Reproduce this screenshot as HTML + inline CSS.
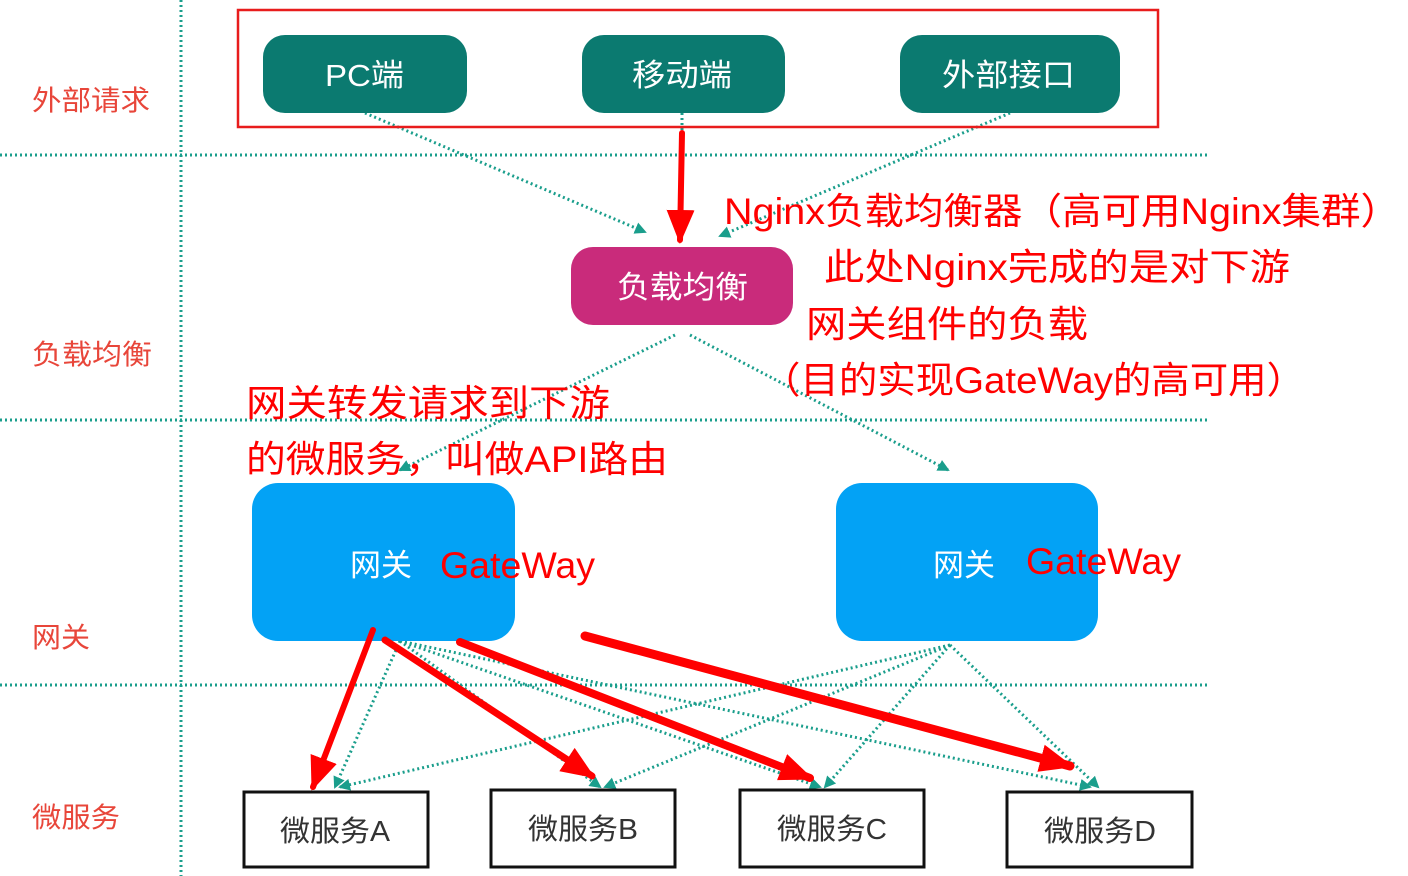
<!DOCTYPE html>
<html><head><meta charset="utf-8"><style>
html,body{margin:0;padding:0;background:#fff;width:1408px;height:876px;overflow:hidden}
text{font-family:"Liberation Sans","Noto Sans CJK SC",sans-serif}
</style></head><body>
<svg width="1408" height="876" viewBox="0 0 1408 876" xmlns="http://www.w3.org/2000/svg">
<defs>
<marker id="ta" markerWidth="12" markerHeight="12" refX="10" refY="6" orient="auto" markerUnits="userSpaceOnUse"><path d="M0,0 L12,6 L0,12 z" fill="#1a9e8c"/></marker>
<marker id="ra" markerWidth="34" markerHeight="28" refX="30" refY="14" orient="auto" markerUnits="userSpaceOnUse"><path d="M0,0 L34,14 L0,28 z" fill="#f00"/></marker>
</defs>
<g stroke="#1a9e8c" stroke-width="3" stroke-dasharray="2 3" fill="none">
<line x1="181" y1="0" x2="181" y2="876"/>
<line x1="0" y1="155" x2="1210" y2="155"/>
<line x1="0" y1="420" x2="1210" y2="420"/>
<line x1="0" y1="685" x2="1210" y2="685"/>
</g>
<g stroke="#1a9e8c" stroke-width="3" stroke-dasharray="2 3" fill="none" marker-end="url(#ta)">
<line x1="365" y1="113" x2="645" y2="232"/>
<line x1="682" y1="113" x2="682" y2="232"/>
<line x1="1010" y1="113" x2="720" y2="236"/>
<line x1="675" y1="335" x2="400" y2="470"/>
<line x1="690" y1="335" x2="948" y2="470"/>
<line x1="400" y1="641" x2="335" y2="787"/>
<line x1="400" y1="641" x2="600" y2="787"/>
<line x1="400" y1="641" x2="820" y2="787"/>
<line x1="400" y1="641" x2="1090" y2="787"/>
<line x1="950" y1="645" x2="340" y2="787"/>
<line x1="950" y1="645" x2="605" y2="787"/>
<line x1="950" y1="645" x2="825" y2="787"/>
<line x1="950" y1="645" x2="1098" y2="787"/>
</g>
<g font-size="28" fill="#e8463a">
<text x="32" y="110" textLength="118" lengthAdjust="spacingAndGlyphs">外部请求</text>
<text x="32" y="364" textLength="120" lengthAdjust="spacingAndGlyphs">负载均衡</text>
<text x="32" y="647" textLength="58" lengthAdjust="spacingAndGlyphs">网关</text>
<text x="32" y="827" textLength="88" lengthAdjust="spacingAndGlyphs">微服务</text>
</g>
<rect x="238" y="10" width="920" height="117" fill="none" stroke="#e81c1c" stroke-width="2.5"/>
<g fill="#0b7a70">
<rect x="263" y="35" width="204" height="78" rx="22"/>
<rect x="582" y="35" width="203" height="78" rx="22"/>
<rect x="900" y="35" width="220" height="78" rx="22"/>
</g>
<g font-size="31" fill="#fff">
<text x="325" y="86" textLength="79" lengthAdjust="spacingAndGlyphs">PC端</text>
<text x="632" y="86" textLength="100" lengthAdjust="spacingAndGlyphs">移动端</text>
<text x="942" y="86" textLength="133" lengthAdjust="spacingAndGlyphs">外部接口</text>
</g>
<rect x="571" y="247" width="222" height="78" rx="22" fill="#c92b7b"/>
<text x="617" y="298" font-size="31" fill="#fff" textLength="131" lengthAdjust="spacingAndGlyphs">负载均衡</text>
<rect x="252" y="483" width="263" height="158" rx="26" fill="#03a2f5"/>
<rect x="836" y="483" width="262" height="158" rx="26" fill="#03a2f5"/>
<text x="350" y="576" font-size="31" fill="#fff">网关</text>
<text x="440" y="578" font-size="37" fill="#f00" textLength="155" lengthAdjust="spacingAndGlyphs">GateWay</text>
<text x="933" y="576" font-size="31" fill="#fff">网关</text>
<text x="1026" y="574" font-size="37" fill="#f00" textLength="155" lengthAdjust="spacingAndGlyphs">GateWay</text>
<g fill="#fff" stroke="#111" stroke-width="3">
<rect x="244" y="792" width="184" height="75"/>
<rect x="491" y="790" width="184" height="77"/>
<rect x="740" y="790" width="184" height="77"/>
<rect x="1007" y="792" width="185" height="75"/>
</g>
<g font-size="29" fill="#333">
<text x="280" y="841" textLength="110" lengthAdjust="spacingAndGlyphs">微服务A</text>
<text x="528" y="839" textLength="110" lengthAdjust="spacingAndGlyphs">微服务B</text>
<text x="777" y="839" textLength="110" lengthAdjust="spacingAndGlyphs">微服务C</text>
<text x="1044" y="841" textLength="112" lengthAdjust="spacingAndGlyphs">微服务D</text>
</g>
<g stroke="#f00" fill="none" marker-end="url(#ra)" stroke-linecap="round">
<line x1="682" y1="133" x2="680" y2="240" stroke-width="6"/>
<line x1="373" y1="630" x2="313" y2="787" stroke-width="6"/>
<line x1="385" y1="640" x2="592" y2="776" stroke-width="7"/>
<line x1="460" y1="642" x2="810" y2="778" stroke-width="8"/>
<line x1="585" y1="636" x2="1070" y2="766" stroke-width="9"/>
</g>
<g font-size="37" fill="#f00">
<text x="724" y="224" textLength="676" lengthAdjust="spacingAndGlyphs">Nginx负载均衡器（高可用Nginx集群）</text>
<text x="824" y="280" textLength="466" lengthAdjust="spacingAndGlyphs">此处Nginx完成的是对下游</text>
<text x="806" y="337" textLength="282" lengthAdjust="spacingAndGlyphs">网关组件的负载</text>
<text x="762" y="393" textLength="543" lengthAdjust="spacingAndGlyphs">（目的实现GateWay的高可用）</text>
<text x="246" y="416" textLength="364" lengthAdjust="spacingAndGlyphs">网关转发请求到下游</text>
<text x="246" y="472" textLength="422" lengthAdjust="spacingAndGlyphs">的微服务，叫做API路由</text>
</g>
</svg>
</body></html>
